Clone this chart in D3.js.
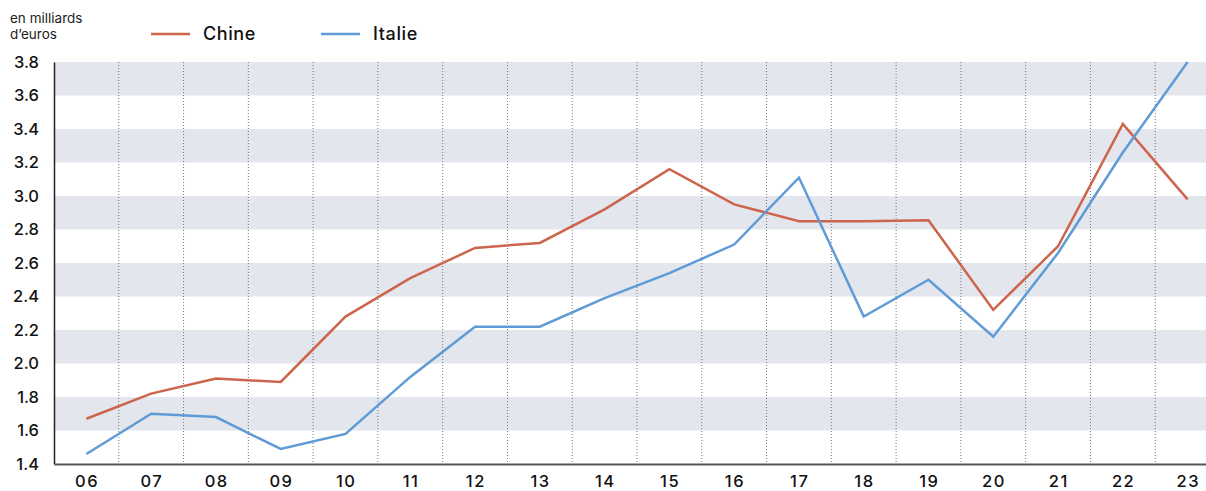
<!DOCTYPE html>
<html>
<head>
<meta charset="utf-8">
<script src="https://cdn.jsdelivr.net/npm/d3@7"></script>
<style>
  body { margin: 0; background: #fff; }
  svg { display: block; font-family: Inter, "Noto Sans", sans-serif; }
</style>
</head>
<body>
<script>
// Data (billions of euros)
var years = ["06","07","08","09","10","11","12","13","14","15","16","17","18","19","20","21","22","23"];
var chine = [1.67,1.82,1.91,1.89,2.28,2.51,2.69,2.72,2.92,3.16,2.95,2.85,2.85,2.855,2.32,2.70,3.43,2.98];
var italie = [1.46,1.70,1.68,1.49,1.58,1.92,2.22,2.22,2.39,2.54,2.71,3.11,2.28,2.50,2.16,2.66,3.26,3.80];
var yTicks = [1.4,1.6,1.8,2.0,2.2,2.4,2.6,2.8,3.0,3.2,3.4,3.6,3.8];
var series = [
  {name: "Chine", values: chine, color: "#cd644c"},
  {name: "Italie", values: italie, color: "#5f9bd6"}
];

var width = 1206, height = 491;
var margin = {top: 62, bottom: 27, left: 54};
var plotRight = 1220;  // last column runs past the window edge

var svg = d3.select("body").append("svg")
    .attr("width", width)
    .attr("height", height);

// Scales
var xScale = d3.scaleBand()
    .domain(years)
    .range([margin.left, plotRight])
    .padding(0);
var yScale = d3.scaleLinear()
    .domain([1.4, 3.8])
    .range([height - margin.bottom, margin.top]);

// Alternating horizontal bands
var bands = d3.range(0, yTicks.length - 1).filter(function(i) { return i % 2 === 1; });
svg.append("g").selectAll("rect")
    .data(bands)
    .enter().append("rect")
    .attr("x", margin.left)
    .attr("width", plotRight - margin.left)
    .attr("y", function(i) { return yScale(yTicks[i + 1]); })
    .attr("height", function(i) { return yScale(yTicks[i]) - yScale(yTicks[i + 1]); })
    .attr("fill", "#e3e6ed");

// Dotted vertical separators between years
svg.append("g").selectAll("line")
    .data(years.slice(1))
    .enter().append("line")
    .attr("x1", function(d) { return xScale(d); })
    .attr("x2", function(d) { return xScale(d); })
    .attr("y1", yScale(3.8))
    .attr("y2", yScale(1.4))
    .attr("stroke", "#777")
    .attr("stroke-width", 1)
    .attr("stroke-dasharray", "1,2");

// Axes
var yAxis = d3.axisLeft(yScale).tickValues(yTicks).tickFormat(d3.format(".1f")).tickSize(0).tickPadding(15);
var gy = svg.append("g")
    .attr("transform", "translate(" + margin.left + ",0)")
    .call(yAxis);
gy.select(".domain").attr("stroke", "#222").attr("stroke-width", 1.5);
gy.selectAll("text").attr("font-family", "Inter, sans-serif").attr("font-size", 16.5).attr("fill", "#111").style("font-weight", 500);

var xAxis = d3.axisBottom(xScale).tickSize(0).tickPadding(11);
var gx = svg.append("g")
    .attr("transform", "translate(0," + yScale(1.4) + ")")
    .call(xAxis);
gx.select(".domain").attr("stroke", "#555").attr("stroke-width", 2);
gx.selectAll("text").attr("font-family", "Inter, sans-serif").attr("font-size", 16.5).attr("fill", "#111")
    .style("font-weight", 500).style("letter-spacing", "1.5px").attr("dx", 0.75);

// Lines
var line = d3.line()
    .x(function(d, i) { return xScale(years[i]) + xScale.bandwidth() / 2; })
    .y(function(d) { return yScale(d); });

svg.append("g").selectAll("path")
    .data(series)
    .enter().append("path")
    .attr("d", function(s) { return line(s.values); })
    .attr("fill", "none")
    .attr("stroke", function(s) { return s.color; })
    .attr("stroke-width", 2.5)
    .attr("stroke-linejoin", "miter");

// Unit label
var unit = svg.append("text")
    .attr("x", 10)
    .attr("font-size", 13.5)
    .attr("fill", "#222");
unit.append("tspan").attr("x", 10).attr("y", 23).text("en milliards");
unit.append("tspan").attr("x", 10).attr("y", 39).text("d\u2019euros");

// Legend
var legendX = [151, 321];
var legend = svg.append("g").selectAll("g")
    .data(series)
    .enter().append("g")
    .attr("transform", function(d, i) { return "translate(" + legendX[i] + ",34)"; });
legend.append("line")
    .attr("x1", 0).attr("x2", 39)
    .attr("stroke", function(d) { return d.color; })
    .attr("stroke-width", 2.5);
legend.append("text")
    .attr("x", 52)
    .attr("y", 6)
    .attr("font-size", 18)
    .attr("fill", "#111")
    .style("font-weight", 500)
    .style("letter-spacing", "0.6px")
    .text(function(d) { return d.name; });
</script>
</body>
</html>
